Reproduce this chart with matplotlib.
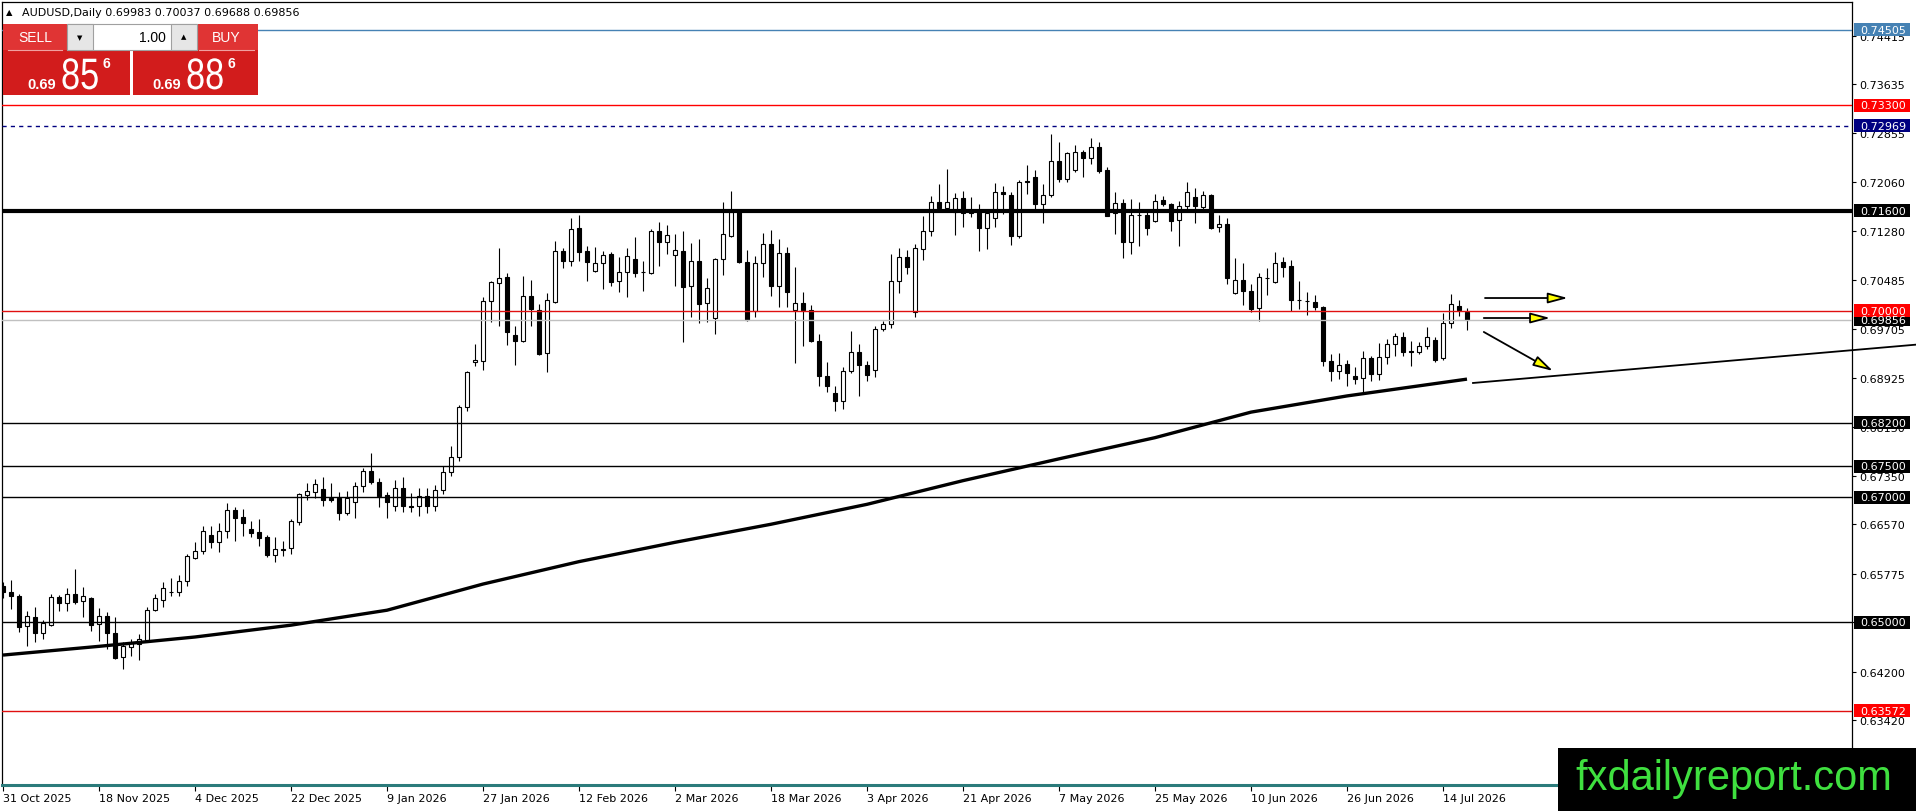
import matplotlib
matplotlib.use("Agg")
import matplotlib.pyplot as plt
from matplotlib.font_manager import FontProperties
from matplotlib.patches import FancyArrowPatch, PathPatch, Rectangle
from matplotlib.textpath import TextPath
from matplotlib.transforms import Affine2D

# daily candles, one row per bar (bar index = position on the chart)
OPEN = [
    0.65584, 0.65488, 0.65424, 0.64931, 0.65076, 0.64819, 0.64958, 0.65397, 0.65301, 0.65451,
    0.65333, 0.65386, 0.64969, 0.65103, 0.64819, 0.64434, 0.64594, 0.64648, 0.64718, 0.65199,
    0.65360, 0.65480, 0.65477, 0.65665, 0.66034, 0.66136, 0.66403, 0.66280, 0.66457, 0.66799,
    0.66681, 0.66494, 0.66441, 0.66360, 0.66082, 0.66173, 0.66184, 0.66601, 0.67045, 0.67083,
    0.67136, 0.66992, 0.66992, 0.66746, 0.66922, 0.67179, 0.67420, 0.67243, 0.67040, 0.66869,
    0.67147, 0.66858, 0.66858, 0.67018, 0.66869, 0.67120, 0.67404, 0.67645, 0.68448, 0.69170,
    0.69197, 0.70149, 0.70438, 0.70534, 0.69609, 0.69518, 0.70240, 0.70015, 0.69314, 0.70133,
    0.70963, 0.70791, 0.71321, 0.70952, 0.70641, 0.70759, 0.70909, 0.70470, 0.70614, 0.70829,
    0.70620, 0.70604, 0.71273, 0.71096, 0.70893, 0.70957, 0.70401, 0.70797, 0.70117, 0.69876,
    0.70829, 0.71203, 0.71578, 0.70775, 0.69999, 0.70759, 0.71064, 0.70390, 0.70925, 0.70015,
    0.70122, 0.70010, 0.69518, 0.68945, 0.68678, 0.68554, 0.69036, 0.69330, 0.69133, 0.69050,
    0.69710, 0.69785, 0.70481, 0.70855, 0.69983, 0.70989, 0.71284, 0.71739, 0.71642, 0.71578,
    0.71813, 0.71562, 0.71605, 0.71321, 0.71481, 0.71910, 0.71856, 0.71203, 0.72076, 0.72140,
    0.71717, 0.71862, 0.72407, 0.72113, 0.72263, 0.72541, 0.72445, 0.72621, 0.72263, 0.71562,
    0.71722, 0.71107, 0.71541, 0.71541, 0.71434, 0.71776, 0.71712, 0.71455, 0.71674, 0.71819,
    0.71658, 0.71856, 0.71337, 0.71391, 0.70278, 0.70492, 0.70320, 0.70037, 0.70518, 0.70454,
    0.70775, 0.70711, 0.70176, 0.70155, 0.70133, 0.70053, 0.69197, 0.69036, 0.69143, 0.68945,
    0.68913, 0.69240, 0.68983, 0.69250, 0.69459, 0.69571, 0.69345, 0.69330, 0.69437, 0.69529,
    0.69234, 0.69796, 0.70080, 0.69983,
]
HIGH = [
    0.65649, 0.65675, 0.65451, 0.65183, 0.65237, 0.65034, 0.65451, 0.65435, 0.65542, 0.65852,
    0.65558, 0.65400, 0.65221, 0.65167, 0.65076, 0.64675, 0.64728, 0.64808, 0.65247, 0.65451,
    0.65649, 0.65702, 0.65756, 0.66093, 0.66280, 0.66537, 0.66537, 0.66590, 0.66906, 0.66853,
    0.66815, 0.66622, 0.66655, 0.66398, 0.66360, 0.66307, 0.66655, 0.67067, 0.67232, 0.67297,
    0.67334, 0.67232, 0.67083, 0.67109, 0.67254, 0.67468, 0.67714, 0.67307, 0.67093, 0.67281,
    0.67323, 0.67072, 0.67147, 0.67147, 0.67200, 0.67511, 0.67832, 0.68485, 0.69036, 0.69464,
    0.70213, 0.70481, 0.71000, 0.70604, 0.69759, 0.70550, 0.70492, 0.70106, 0.70283, 0.71123,
    0.71000, 0.71482, 0.71535, 0.71032, 0.71016, 0.70952, 0.70936, 0.70856, 0.71000, 0.71177,
    0.70802, 0.71310, 0.71428, 0.71375, 0.71230, 0.71284, 0.71082, 0.71147, 0.70524, 0.70840,
    0.71738, 0.71926, 0.71605, 0.70979, 0.70872, 0.71241, 0.71300, 0.71150, 0.71016, 0.70695,
    0.70294, 0.70090, 0.69625, 0.69170, 0.68785, 0.69090, 0.69668, 0.69464, 0.69197, 0.69750,
    0.69839, 0.70909, 0.70999, 0.70978, 0.71070, 0.71524, 0.71835, 0.72033, 0.72274, 0.71888,
    0.71926, 0.71819, 0.71712, 0.71632, 0.72049, 0.72006, 0.71910, 0.72097, 0.72338, 0.72263,
    0.72033, 0.72835, 0.72712, 0.72552, 0.72664, 0.72579, 0.72771, 0.72712, 0.72300, 0.71899,
    0.71792, 0.71792, 0.71738, 0.71589, 0.71872, 0.71845, 0.71728, 0.71754, 0.72060, 0.71963,
    0.71926, 0.71872, 0.71540, 0.71482, 0.70839, 0.70759, 0.70428, 0.70604, 0.70679, 0.70936,
    0.70855, 0.70818, 0.70470, 0.70294, 0.70251, 0.70080, 0.69304, 0.69320, 0.69213, 0.69090,
    0.69347, 0.69266, 0.69480, 0.69544, 0.69641, 0.69652, 0.69518, 0.69502, 0.69742, 0.69571,
    0.69962, 0.70267, 0.70176, 0.70037,
]
LOW = [
    0.65381, 0.65210, 0.64846, 0.64621, 0.64675, 0.64728, 0.64942, 0.65183, 0.65183, 0.65290,
    0.65076, 0.64862, 0.64701, 0.64567, 0.64400, 0.64247, 0.64461, 0.64396, 0.64701, 0.65183,
    0.65247, 0.65413, 0.65424, 0.65574, 0.66012, 0.66093, 0.66184, 0.66130, 0.66344, 0.66307,
    0.66376, 0.66360, 0.66226, 0.66039, 0.65970, 0.66055, 0.66093, 0.66564, 0.66959, 0.66992,
    0.66869, 0.66922, 0.66644, 0.66719, 0.66671, 0.67083, 0.67211, 0.66853, 0.66676, 0.66788,
    0.66772, 0.66772, 0.66708, 0.66751, 0.66780, 0.67050, 0.67351, 0.67581, 0.68394, 0.69106,
    0.69052, 0.69823, 0.69748, 0.69454, 0.69132, 0.69502, 0.69759, 0.69288, 0.69020, 0.70122,
    0.70684, 0.70722, 0.70802, 0.70481, 0.70625, 0.70347, 0.70401, 0.70294, 0.70213, 0.70534,
    0.70320, 0.70588, 0.70722, 0.70909, 0.70401, 0.69491, 0.69892, 0.69796, 0.69823, 0.69619,
    0.70577, 0.71177, 0.70765, 0.69839, 0.69903, 0.70545, 0.70229, 0.70053, 0.70053, 0.69154,
    0.69427, 0.69491, 0.68795, 0.68688, 0.68383, 0.68421, 0.68993, 0.68635, 0.68876, 0.68930,
    0.69680, 0.69716, 0.70283, 0.70588, 0.69892, 0.70818, 0.71203, 0.71578, 0.71632, 0.71219,
    0.71348, 0.71498, 0.70961, 0.70992, 0.71348, 0.71551, 0.71053, 0.71160, 0.71872, 0.71605,
    0.71407, 0.71819, 0.72060, 0.72060, 0.72220, 0.72140, 0.72354, 0.72209, 0.71514, 0.71230,
    0.70839, 0.70909, 0.71043, 0.71214, 0.71428, 0.71674, 0.71284, 0.71032, 0.71578, 0.71407,
    0.71589, 0.71310, 0.71268, 0.70428, 0.70267, 0.70090, 0.69983, 0.69839, 0.70251, 0.70443,
    0.70545, 0.69999, 0.70026, 0.69935, 0.70004, 0.69116, 0.68875, 0.68902, 0.68795, 0.68822,
    0.68699, 0.68875, 0.68892, 0.69143, 0.69266, 0.69266, 0.69116, 0.69304, 0.69384, 0.69181,
    0.69208, 0.69716, 0.69919, 0.69688,
]
CLOSE = [
    0.65488, 0.65413, 0.64926, 0.65092, 0.64819, 0.64980, 0.65397, 0.65301, 0.65451, 0.65328,
    0.65413, 0.64958, 0.65103, 0.64819, 0.64418, 0.64621, 0.64664, 0.64728, 0.65199, 0.65381,
    0.65542, 0.65490, 0.65665, 0.66055, 0.66135, 0.66457, 0.66280, 0.66457, 0.66799, 0.66671,
    0.66585, 0.66430, 0.66355, 0.66077, 0.66173, 0.66157, 0.66617, 0.67051, 0.67099, 0.67211,
    0.66965, 0.66965, 0.66751, 0.66986, 0.67179, 0.67420, 0.67243, 0.67018, 0.66922, 0.67147,
    0.66858, 0.66853, 0.67018, 0.66869, 0.67120, 0.67404, 0.67645, 0.68448, 0.69009, 0.69202,
    0.70149, 0.70454, 0.70529, 0.69662, 0.69518, 0.70240, 0.70026, 0.69304, 0.70176, 0.70963,
    0.70791, 0.71310, 0.70936, 0.70775, 0.70759, 0.70898, 0.70465, 0.70614, 0.70882, 0.70598,
    0.70614, 0.71273, 0.71096, 0.71214, 0.70973, 0.70385, 0.70797, 0.70106, 0.70363, 0.70829,
    0.71225, 0.71578, 0.70775, 0.69855, 0.70759, 0.71064, 0.70390, 0.70925, 0.70294, 0.70122,
    0.70010, 0.69518, 0.68945, 0.68785, 0.68554, 0.69036, 0.69330, 0.69133, 0.68967, 0.69700,
    0.69785, 0.70481, 0.70855, 0.70695, 0.70999, 0.71284, 0.71739, 0.71642, 0.71739, 0.71813,
    0.71562, 0.71605, 0.71321, 0.71562, 0.71899, 0.71867, 0.71203, 0.72060, 0.72060, 0.71712,
    0.71862, 0.72407, 0.72113, 0.72530, 0.72541, 0.72445, 0.72621, 0.72236, 0.71524, 0.71722,
    0.71107, 0.71541, 0.71540, 0.71321, 0.71765, 0.71712, 0.71444, 0.71674, 0.71899, 0.71674,
    0.71856, 0.71332, 0.71385, 0.70518, 0.70492, 0.70320, 0.70026, 0.70534, 0.70524, 0.70759,
    0.70705, 0.70176, 0.70171, 0.70149, 0.70053, 0.69197, 0.69036, 0.69133, 0.68993, 0.68902,
    0.69234, 0.68983, 0.69250, 0.69464, 0.69587, 0.69330, 0.69336, 0.69437, 0.69571, 0.69208,
    0.69796, 0.70106, 0.70010, 0.69856,
]

# thick moving average at these bars
MA_BARS = [0, 12, 24, 36, 48, 60, 72, 84, 96, 108, 120, 132, 144, 156, 168, 183]
MA_VALUES = [0.6447, 0.6461, 0.6476, 0.6495, 0.6519, 0.6561, 0.6597, 0.6628, 0.6657, 0.6689,
             0.6727, 0.6762, 0.6796, 0.6837, 0.6863, 0.6890]

# horizontal levels with their price tags
LEVELS = [0.74505, 0.73300, 0.72969, 0.71600, 0.69856, 0.70000, 0.68200, 0.67500, 0.67000,
          0.65000, 0.63572]
LEVEL_STYLE = [
    # line colour, width, dashes, tag colour
    ("#4682B4", 1.0, None, "#4682B4"),
    ("#FF0000", 1.0, None, "#FF0000"),
    ("#000080", 1.0, (0, (3, 3)), "#000080"),
    ("#000000", 3.0, None, "#000000"),
    ("#C0C0C0", 1.0, None, "#000000"),
    ("#E01010", 1.0, None, "#FF0000"),
    ("#000000", 1.0, None, "#000000"),
    ("#000000", 1.0, None, "#000000"),
    ("#000000", 1.0, None, "#000000"),
    ("#000000", 1.0, None, "#000000"),
    ("#E01010", 1.0, None, "#FF0000"),
]

PRICE_TICKS = [0.74415, 0.73635, 0.72855, 0.72060, 0.71280, 0.70485, 0.69705, 0.68925, 0.68130,
               0.67350, 0.66570, 0.65775, 0.64995, 0.64200, 0.63420]
DATE_BARS = [0, 12, 24, 36, 48, 60, 72, 84, 96, 108, 120, 132, 144, 156, 168, 180]
DATE_LABELS = ["31 Oct 2025", "18 Nov 2025", "4 Dec 2025", "22 Dec 2025", "9 Jan 2026",
               "27 Jan 2026", "12 Feb 2026", "2 Mar 2026", "18 Mar 2026", "3 Apr 2026",
               "21 Apr 2026", "7 May 2026", "25 May 2026", "10 Jun 2026", "26 Jun 2026",
               "14 Jul 2026"]

# drawn objects on the right side
TREND_X = [183.75, 239.1]
TREND_Y = [0.68838, 0.69453]
ARROWS = [((185.25, 0.70202), (195.6, 0.70202)),
          ((185.1, 0.69881), (193.4, 0.69881)),
          ((185.1, 0.69657), (193.75, 0.69031))]

HEADER = "AUDUSD,Daily 0.69983 0.70037 0.69688 0.69856"
SELL_PRICE = ("0.69", "85", "6")
BUY_PRICE = ("0.69", "88", "6")

W, H = 1916, 812
PX = 0.00016054  # price per pixel


def _draw_candles(ax):
    bars = range(len(OPEN))
    ax.vlines(bars, LOW, HIGH, color="black", lw=0.8, zorder=2)
    bottoms = [min(o, c) for o, c in zip(OPEN, CLOSE)]
    heights = [max(abs(c - o), 0.00002) for o, c in zip(OPEN, CLOSE)]
    colors = ["white" if c >= o else "black" for o, c in zip(OPEN, CLOSE)]
    ax.bar(bars, heights, bottom=bottoms, width=0.56, color=colors,
           edgecolor="black", linewidth=0.8, zorder=3)


def _draw_levels(ax):
    tr = ax.get_yaxis_transform()
    for lvl, (lc, lw, ls, tc) in zip(LEVELS, LEVEL_STYLE):
        ax.axhline(lvl, color=lc, lw=lw, linestyle=ls if ls else "-", zorder=5)
        ax.add_patch(Rectangle((1.001, lvl - 6.5 * PX), 56 / 1850, 13 * PX, transform=tr,
                               facecolor=tc, edgecolor="none", clip_on=False, zorder=6))
        ax.text(1.0043, lvl, f"{lvl:.5f}", transform=tr, color="white", fontsize=8,
                va="center", ha="left", clip_on=False, zorder=7)


def _narrow_text(ax, x, y, s, size, sx, color="white"):
    path = TextPath((0, 0), s, size=size, prop=FontProperties(family="Liberation Sans"))
    tr = Affine2D().scale(sx, -1).translate(x, y) + ax.transData
    ax.add_patch(PathPatch(path, transform=tr, facecolor=color, edgecolor="none"))


def _draw_panel(ov):
    ov.text(6, 13, "\u25B2", fontsize=6, va="center", ha="left")
    ov.text(22, 13, HEADER, fontsize=8, va="center", ha="left")

    # one-click trading panel
    ov.add_patch(Rectangle((3, 25), 127, 71, facecolor="#D21C1C", edgecolor="none"))
    ov.add_patch(Rectangle((133, 25), 125, 71, facecolor="#D21C1C", edgecolor="none"))
    ov.add_patch(Rectangle((3, 25), 127, 26, facecolor="#E03434", edgecolor="none"))
    ov.add_patch(Rectangle((133, 25), 125, 26, facecolor="#E03434", edgecolor="none"))
    ov.plot([8, 62], [51, 51], color="#F0A0A0", lw=0.8)
    ov.plot([199, 254], [51, 51], color="#F0A0A0", lw=0.8)
    ov.add_patch(Rectangle((67, 25), 130, 26, facecolor="white", edgecolor="#A0A0A0", lw=0.8))
    ov.add_patch(Rectangle((67, 25), 26, 26, facecolor="#E6E6E6", edgecolor="#A0A0A0", lw=0.8))
    ov.add_patch(Rectangle((171, 25), 26, 26, facecolor="#E6E6E6", edgecolor="#A0A0A0", lw=0.8))
    ov.text(80, 38, "\u25BC", fontsize=5, va="center", ha="center")
    ov.text(184, 37, "\u25B2", fontsize=5, va="center", ha="center")
    ov.text(166, 38, "1.00", fontsize=10, va="center", ha="right",
            family=["Liberation Sans", "DejaVu Sans"])
    ov.text(35, 38, "SELL", fontsize=10, color="white", va="center", ha="center",
            family=["Liberation Sans", "DejaVu Sans"])
    ov.text(226, 38, "BUY", fontsize=10, color="white", va="center", ha="center",
            family=["Liberation Sans", "DejaVu Sans"])

    for x0, (small, big, sup) in ((27, SELL_PRICE), (152, BUY_PRICE)):
        ov.text(x0, 89, small, fontsize=10.5, fontweight="bold", color="white",
                va="baseline", ha="left", family=["Liberation Sans", "DejaVu Sans"])
        _narrow_text(ov, x0 + 34, 90, big, 44, 0.78)
        ov.text(x0 + 76, 57, sup, fontsize=10, fontweight="bold", color="white",
                va="top", ha="left", family=["Liberation Sans", "DejaVu Sans"])

    # watermark
    ov.add_patch(Rectangle((1558, 749), 358, 63, facecolor="black", edgecolor="none"))
    ov.text(1575, 790, "fxdailyreport.com", fontsize=30, color="#3FE03F", va="baseline",
            ha="left", family=["Liberation Sans", "DejaVu Sans"])


def main() -> None:
    fig = plt.figure(figsize=(W / 100, H / 100), dpi=100)
    fig.patch.set_facecolor("white")
    ax = fig.add_axes([2 / W, 26 / H, 1850 / W, 783.3 / H])
    ax.set_xlim(-0.125, 231.125)
    ax.set_ylim(0.62384, 0.74959)

    _draw_candles(ax)
    ax.plot(MA_BARS, MA_VALUES, color="black", lw=2.4, zorder=4, solid_capstyle="butt")
    _draw_levels(ax)

    ax.plot(TREND_X, TREND_Y, color="black", lw=1.3, clip_on=False, zorder=8)
    for start, end in ARROWS:
        ax.add_patch(FancyArrowPatch(start, end, arrowstyle="-|>,head_length=0.6,head_width=0.16",
                                     mutation_scale=20, facecolor="#FFFF00", edgecolor="black",
                                     lw=1.3, shrinkA=0, shrinkB=0, zorder=8))

    ax.yaxis.tick_right()
    ax.set_yticks(PRICE_TICKS)
    ax.set_yticklabels([f"{v:.5f}" for v in PRICE_TICKS])
    ax.tick_params(axis="y", length=3, width=0.8, pad=2, labelsize=8, direction="out")
    ax.set_xticks(DATE_BARS)
    ax.set_xticklabels(DATE_LABELS, ha="left")
    ax.tick_params(axis="x", length=4, width=0.8, pad=2, labelsize=8, direction="out")
    for side in ("left", "top", "right"):
        ax.spines[side].set_linewidth(0.9)
    ax.spines["bottom"].set_color("#2B7B7B")
    ax.spines["bottom"].set_linewidth(2.2)

    ov = fig.add_axes([0, 0, 1, 1], zorder=10)
    ov.set_xlim(0, W)
    ov.set_ylim(H, 0)
    ov.axis("off")
    ov.patch.set_visible(False)
    _draw_panel(ov)

    fig.savefig("out.png", dpi=100)
    plt.close(fig)


if __name__ == "__main__":
    main()
